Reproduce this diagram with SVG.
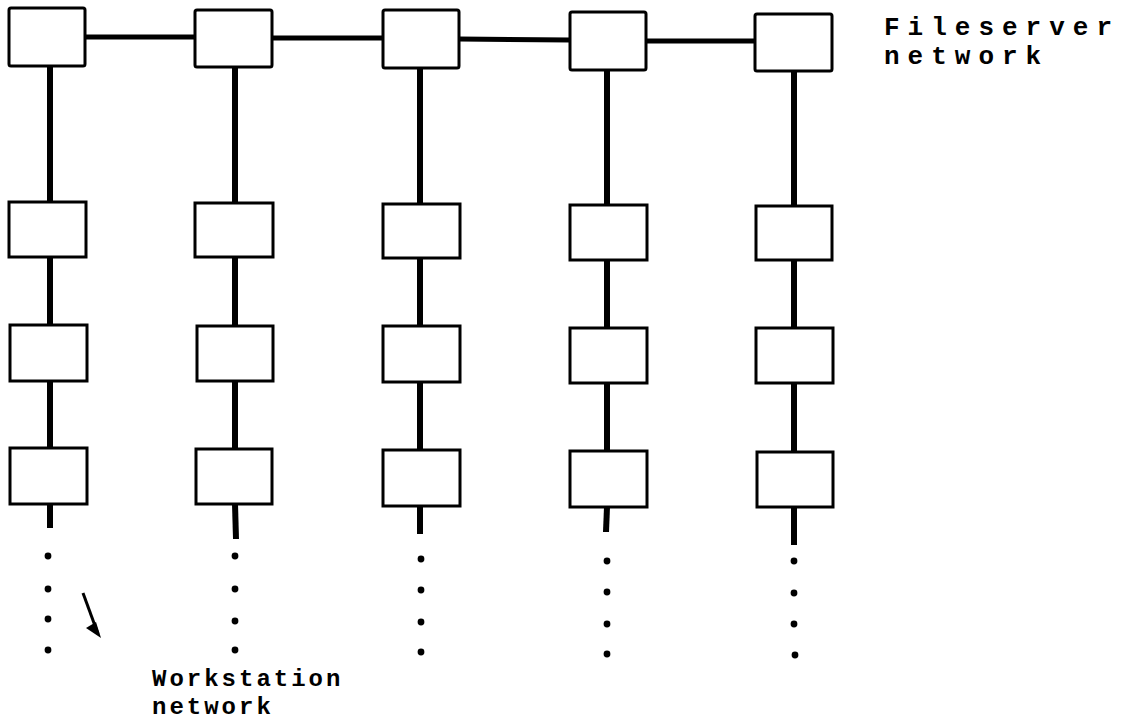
<svg xmlns="http://www.w3.org/2000/svg" width="1126" height="721" viewBox="0 0 1126 721">
<defs>
<style>
.box{fill:#fff;stroke:#000;stroke-width:3;}
.bus{stroke:#000;stroke-width:5;fill:none;}
.col{stroke:#000;stroke-width:6;fill:none;}
.dot{fill:#000;}
.lbl{font-family:"Liberation Mono","DejaVu Sans Mono",monospace;fill:#000;font-weight:bold;}
</style>
</defs>
<rect width="1126" height="721" fill="#fff"/>
<g id="connectors">
<line class="bus" x1="85" y1="37" x2="195" y2="37"/>
<line class="bus" x1="272" y1="38" x2="383" y2="38"/>
<line class="bus" x1="459" y1="39" x2="570" y2="40"/>
<line class="bus" x1="646" y1="41" x2="755" y2="41"/>
<line class="col" x1="50" y1="66" x2="50" y2="202"/>
<line class="col" x1="50" y1="257" x2="50" y2="325"/>
<line class="col" x1="50" y1="381" x2="50" y2="448"/>
<line class="col" x1="50" y1="504" x2="50" y2="528"/>
<line class="col" x1="235" y1="67" x2="235" y2="203"/>
<line class="col" x1="235" y1="257" x2="235" y2="326"/>
<line class="col" x1="235" y1="381" x2="235" y2="449"/>
<line class="col" x1="235" y1="504" x2="236" y2="539"/>
<line class="col" x1="420" y1="68" x2="420" y2="204"/>
<line class="col" x1="420" y1="258" x2="420" y2="326"/>
<line class="col" x1="420" y1="382" x2="420" y2="450"/>
<line class="col" x1="420" y1="506" x2="420" y2="534"/>
<line class="col" x1="607" y1="70" x2="607" y2="205"/>
<line class="col" x1="607" y1="260" x2="607" y2="328"/>
<line class="col" x1="607" y1="383" x2="607" y2="451"/>
<line class="col" x1="607" y1="507" x2="606" y2="532"/>
<line class="col" x1="794" y1="71" x2="794" y2="206"/>
<line class="col" x1="794" y1="260" x2="794" y2="328"/>
<line class="col" x1="794" y1="383" x2="794" y2="452"/>
<line class="col" x1="794" y1="507" x2="794" y2="545"/>
</g>
<g id="ellipsis">
<circle class="dot" cx="48" cy="556" r="3.4"/><circle class="dot" cx="48" cy="589" r="3.4"/><circle class="dot" cx="48" cy="619" r="3.4"/><circle class="dot" cx="48" cy="650" r="3.4"/>
<circle class="dot" cx="235" cy="556" r="3.4"/><circle class="dot" cx="235" cy="589" r="3.4"/><circle class="dot" cx="235" cy="621" r="3.4"/><circle class="dot" cx="235" cy="650" r="3.4"/>
<circle class="dot" cx="421" cy="559" r="3.4"/><circle class="dot" cx="421" cy="590" r="3.4"/><circle class="dot" cx="421" cy="622" r="3.4"/><circle class="dot" cx="421" cy="652" r="3.4"/>
<circle class="dot" cx="607" cy="561" r="3.4"/><circle class="dot" cx="607" cy="592" r="3.4"/><circle class="dot" cx="607" cy="624" r="3.4"/><circle class="dot" cx="607" cy="654" r="3.4"/>
<circle class="dot" cx="794" cy="561" r="3.4"/><circle class="dot" cx="794" cy="593" r="3.4"/><circle class="dot" cx="794" cy="624" r="3.4"/><circle class="dot" cx="795" cy="655" r="3.4"/>
</g>
<g id="pointer">
<line x1="83" y1="593" x2="98" y2="634" stroke="#000" stroke-width="3"/>
<path d="M86 628 L101 638 L96 622 Z" fill="#000"/>
</g>
<g id="r1c1"><rect class="box" x="9" y="8" width="76" height="58" rx="2"/></g>
<g id="r1c2"><rect class="box" x="195" y="10" width="77" height="57" rx="2"/></g>
<g id="r1c3"><rect class="box" x="383" y="10" width="76" height="58" rx="2"/></g>
<g id="r1c4"><rect class="box" x="570" y="12" width="76" height="58" rx="2"/></g>
<g id="r1c5"><rect class="box" x="755" y="14" width="77" height="57" rx="2"/></g>
<g id="r2c1"><rect class="box" x="9" y="202" width="77" height="55"/></g>
<g id="r2c2"><rect class="box" x="195" y="203" width="78" height="54"/></g>
<g id="r2c3"><rect class="box" x="383" y="204" width="77" height="54"/></g>
<g id="r2c4"><rect class="box" x="570" y="205" width="77" height="55"/></g>
<g id="r2c5"><rect class="box" x="756" y="206" width="76" height="54"/></g>
<g id="r3c1"><rect class="box" x="10" y="325" width="77" height="56"/></g>
<g id="r3c2"><rect class="box" x="197" y="326" width="76" height="55"/></g>
<g id="r3c3"><rect class="box" x="383" y="326" width="77" height="56"/></g>
<g id="r3c4"><rect class="box" x="570" y="328" width="77" height="55"/></g>
<g id="r3c5"><rect class="box" x="756" y="328" width="77" height="55"/></g>
<g id="r4c1"><rect class="box" x="10" y="448" width="77" height="56"/></g>
<g id="r4c2"><rect class="box" x="196" y="449" width="76" height="55"/></g>
<g id="r4c3"><rect class="box" x="383" y="450" width="77" height="56"/></g>
<g id="r4c4"><rect class="box" x="570" y="451" width="77" height="56"/></g>
<g id="r4c5"><rect class="box" x="757" y="452" width="76" height="55"/></g>
<g id="labels">
<text class="lbl" x="884" y="35" font-size="26" letter-spacing="8">Fileserver</text>
<text class="lbl" x="884" y="64" font-size="26" letter-spacing="8">network</text>
<text class="lbl" x="152" y="686" font-size="24" letter-spacing="3">Workstation</text>
<text class="lbl" x="152" y="714" font-size="24" letter-spacing="3">network</text>
</g>
</svg>
